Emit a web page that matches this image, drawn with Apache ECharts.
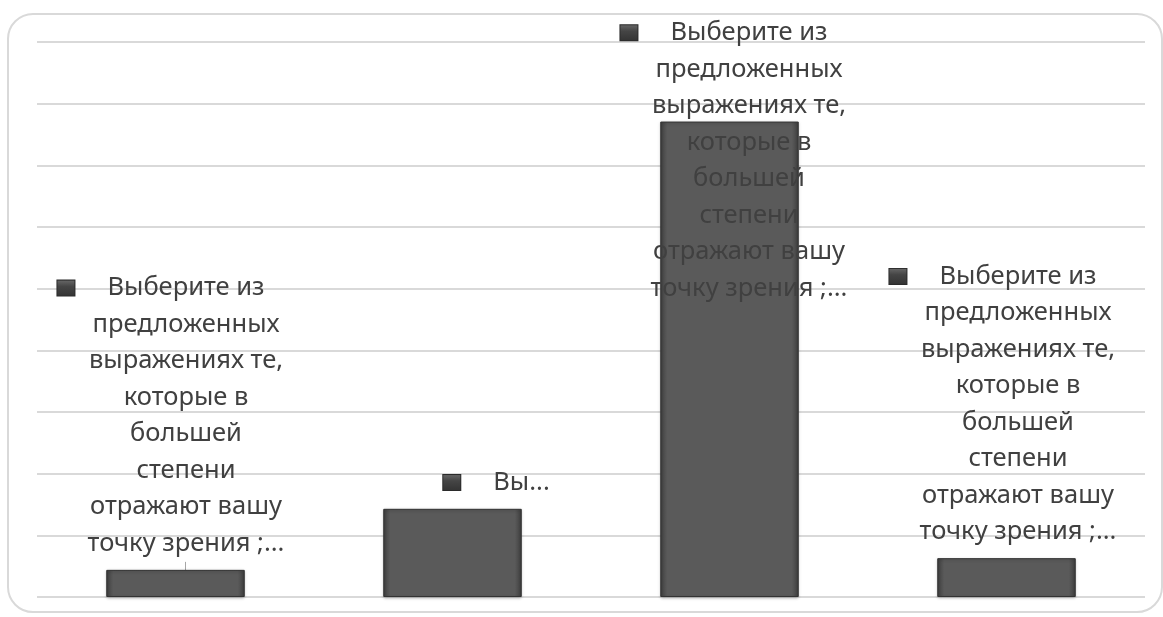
<!DOCTYPE html>
<html>
<head>
<meta charset="utf-8">
<title>chart</title>
<script src="https://cdn.jsdelivr.net/npm/echarts@6/dist/echarts.min.js"></script>
<style>
  html, body { margin: 0; padding: 0; background: #fff; overflow: hidden; }
  #frame {
    position: absolute; left: 7px; top: 13px; width: 1156px; height: 600px;
    border: 2px solid #d9d9d9; border-radius: 26px; box-sizing: border-box;
  }
  #main { position: absolute; left: 0; top: 0; width: 1163px; height: 617px; }
</style>
</head>
<body>
<div id="frame"></div>
<div id="main"></div>
<script>
// данные
const categories = ['1', '2', '3', '4']
const values = [0.44, 1.43, 7.71, 0.63]
const fullText = 'Выберите из\nпредложенных\nвыражениях те,\nкоторые в\nбольшей\nстепени\nотражают вашу\nточку зрения ;...'
const labelTexts = [fullText, 'Вы...', fullText, fullText]
const labelShifts = [[10.5, 0], [44, 0], [19.5, 193], [11.5, 0]]

var myChart = echarts.init(document.getElementById('main'))

function makeLabel (idx) {
  const lines = labelTexts[idx].split('\n')
  if (lines.length === 1) {
    return '{m|}{g|}' + lines[0]
  }
  lines[0] = '{m|}{g|}' + lines[0] + '{g2|}'
  return lines.join('\n')
}

const seriesData = values.map(function (v, i) {
  const item = { value: v }
  // у первого столбца есть выносная линия
  if (i === 0) {
    item.labelLine = { show: true, lineStyle: { color: '#a6a6a6', width: 1 } }
  }
  return item
})

var option = {
  animation: false,
  grid: {
    left: 37,
    right: 18,
    top: 42,
    bottom: 20
  },
  xAxis: {
    type: 'category',
    data: categories,
    axisLine: { show: false },
    axisTick: { show: false },
    axisLabel: { show: false }
  },
  yAxis: {
    type: 'value',
    min: 0,
    max: 9,
    interval: 1,
    axisLabel: { show: false },
    axisLine: { show: false },
    axisTick: { show: false },
    splitLine: {
      lineStyle: { color: '#d9d9d9', width: 2 }
    }
  },
  series: [
    {
      type: 'bar',
      barCategoryGap: '50%',
      data: seriesData,
      itemStyle: {
        color: {
          type: 'linear', x: 0, y: 0, x2: 1, y2: 0,
          colorStops: [
            { offset: 0, color: '#3e3e3e' },
            { offset: 0.05, color: '#5a5a5a' },
            { offset: 0.95, color: '#5a5a5a' },
            { offset: 1, color: '#3e3e3e' }
          ]
        },
        borderColor: '#333333',
        borderWidth: 1,
        shadowColor: 'rgba(0,0,0,0.25)',
        shadowBlur: 3,
        shadowOffsetY: 1
      },
      labelLayout: function (params) {
        const s = labelShifts[params.dataIndex]
        return { dx: s[0], dy: s[1] }
      },
      label: {
        show: true,
        position: 'top',
        distance: 8,
        align: 'center',
        fontFamily: 'Noto Sans',
        fontSize: 25.5,
        lineHeight: 36.5,
        color: '#404040',
        formatter: function (p) {
          return makeLabel(p.dataIndex)
        },
        rich: {
          m: {
            width: 17,
            height: 15,
            backgroundColor: {
              type: 'linear', x: 0, y: 0, x2: 0, y2: 1,
              colorStops: [
                { offset: 0, color: '#6a6a6a' },
                { offset: 0.4, color: '#454545' },
                { offset: 1, color: '#333333' }
              ]
            },
            borderColor: '#2a2a2a',
            borderWidth: 1,
            lineHeight: 36.5
          },
          g: { width: 33, lineHeight: 36.5 },
          g2: { width: 50, lineHeight: 36.5 }
        }
      }
    }
  ]
}

myChart.setOption(option)
</script>
</body>
</html>
